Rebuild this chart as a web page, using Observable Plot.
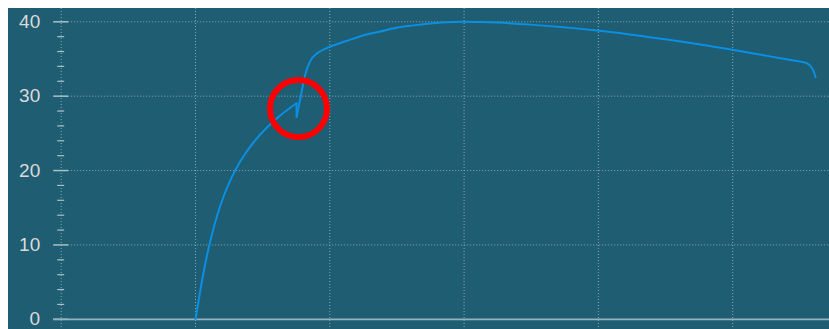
<!DOCTYPE html>
<html>
<head>
<meta charset="utf-8">
<script src="https://cdn.jsdelivr.net/npm/d3@7"></script>
<script src="https://cdn.jsdelivr.net/npm/@observablehq/plot@0.6"></script>
<style>
  body { margin: 8px 0 0 8px; background: #fff; overflow: hidden; }
  svg { max-width: none !important; display: block; }
</style>
</head>
<body>
<div id="chart"></div>
<script>
// Curve data (x in grid units, y value)
const strain = [1.000,1.037,1.074,1.112,1.162,1.211,1.273,1.335,1.422,1.534,1.633,1.752,1.753,1.782,1.819,1.856,1.906,1.981,2.130,2.253,2.378,2.502,2.623,2.749,2.870,2.996,3.246,3.495,3.742,3.991,4.261,4.512,4.760,5.008,5.257,5.455,5.529,5.560,5.584,5.604,5.617];
const stress = [0,4.01,7.57,10.66,13.99,16.61,19.21,21.28,23.56,25.82,27.43,29.05,27.20,29.85,33.00,34.78,35.77,36.49,37.45,38.20,38.70,39.22,39.52,39.78,39.93,39.99,39.89,39.62,39.26,38.82,38.24,37.61,36.94,36.22,35.42,34.80,34.56,34.35,33.95,33.30,32.54];

const xGridTicks = [0, 1, 2, 3, 4, 5];
const yMajorTicks = [0, 10, 20, 30, 40];
const yMinorTicks = [2, 4, 6, 8, 12, 14, 16, 18, 22, 24, 26, 28, 32, 34, 36, 38];
const yTickLabels = ["0", "10", "20", "30", "40"];

// Highlight circle
const markX = [1.767];
const markY = [28.33];

const xMax = 5.721;
const W = 821, H = 321;
const mL = 52.7, mT = 13.3, mB = 10.2;
const pxX = (W - mL) / xMax;
const pxY = (H - mT - mB) / 40;
const majHalf = 7.5 / pxX, minHalf = 3.5 / pxX;
const yTop = 40 + mT / pxY, yBot = -mB / pxY;

const data = strain.map((x, i) => ({x, y: stress[i]}));
const seg1 = data.slice(0, 12);
const seg2 = data.slice(12);

const chart = Plot.plot({
  width: W,
  height: H,
  marginLeft: mL,
  marginRight: 0,
  marginTop: mT,
  marginBottom: mB,
  x: {domain: [0, xMax], axis: null},
  y: {domain: [0, 40], axis: null},
  style: {background: "#1f5d73", overflow: "visible", maxWidth: "none"},
  marks: [
    Plot.ruleX(xGridTicks, {x: d => d, y1: yTop, y2: yBot, stroke: "#86a8b5", strokeWidth: 1, strokeDasharray: "1,2"}),
    Plot.ruleY(yMajorTicks.filter(d => d > 0), {y: d => d, x1: majHalf, x2: xMax, stroke: "#86a8b5", strokeWidth: 1, strokeDasharray: "1,2"}),
    Plot.ruleY(yMajorTicks, {y: d => d, x1: -majHalf, x2: majHalf, stroke: "#a9c0c8", strokeWidth: 1.5}),
    Plot.ruleY(yMinorTicks, {y: d => d, x1: -minHalf, x2: minHalf, stroke: "#a9c0c8", strokeWidth: 1.2}),
    Plot.ruleY([0], {y: d => d, x1: -majHalf, x2: xMax, stroke: "#96b3bd", strokeWidth: 1.8}),
    Plot.text(yMajorTicks, {x: 0, y: d => d, text: (d, i) => yTickLabels[i], textAnchor: "end", dx: -21, fill: "#dadada", fontSize: 19, fontFamily: "Liberation Sans, Arial, sans-serif"}),
    Plot.line(seg1, {x: "x", y: "y", stroke: "#0b8fe3", strokeWidth: 2, curve: "monotone-x"}),
    Plot.line([data[11], data[12]], {x: "x", y: "y", stroke: "#0b8fe3", strokeWidth: 2}),
    Plot.line(seg2, {x: "x", y: "y", stroke: "#0b8fe3", strokeWidth: 2, curve: "monotone-x"}),
    Plot.dot(markX.map((x, i) => ({x, y: markY[i]})), {x: "x", y: "y", r: 28.5, stroke: "#ff0000", strokeWidth: 6, fill: "none"})
  ]
});
document.getElementById("chart").appendChild(chart);
</script>
</body>
</html>
